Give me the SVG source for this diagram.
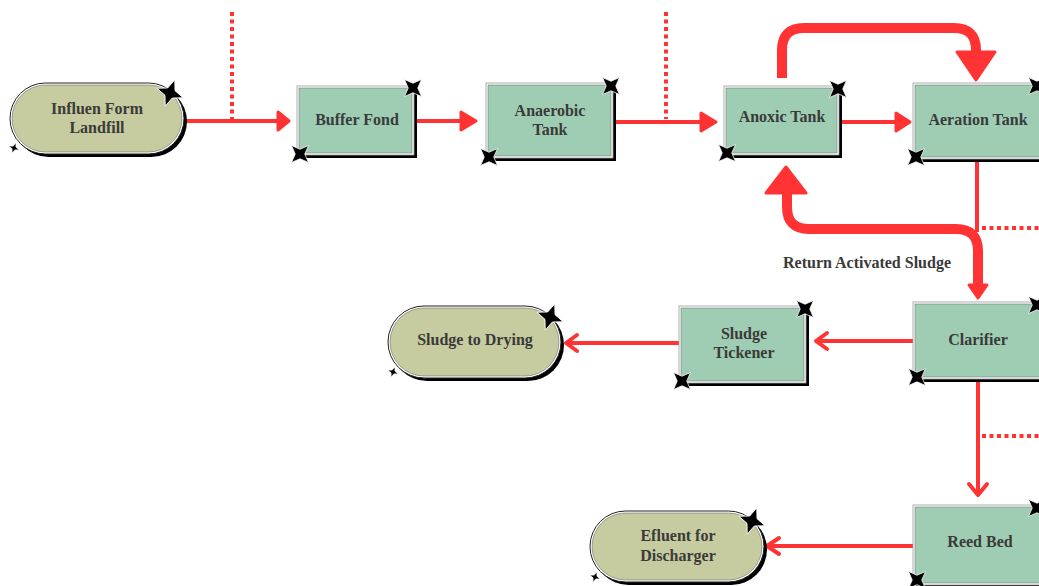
<svg xmlns="http://www.w3.org/2000/svg" width="1039" height="586" viewBox="0 0 1039 586">
<defs>
<style>
.lbl{font-family:"Liberation Serif","Times New Roman",serif;font-weight:bold;font-size:16px;fill:#3a3a3a;text-anchor:middle}
.sh{fill:#000}
.outer{fill:#fff;stroke:#999;stroke-width:0.8}
.box{fill:#9fcdb4;stroke:#666;stroke-width:0.5}
.pill{fill:#c6cc9f;stroke:#555;stroke-width:0.5}
.pillout{fill:#fff;stroke:#222;stroke-width:1}
.ln{fill:none;stroke:#ff3333;stroke-width:4}
.dot{fill:none;stroke:#ff3333;stroke-width:4;stroke-dasharray:4 3.5}
.thick{fill:none;stroke:#ff3333;stroke-width:10;stroke-linejoin:round}
.head{fill:#ff3333;stroke:#ff3333;stroke-width:3;stroke-linejoin:round}
.chev{fill:none;stroke:#ff3333;stroke-width:4;stroke-linecap:round;stroke-linejoin:round}
.star{fill:#000;stroke:#fff;stroke-width:0.06}
</style>
<path id="st" class="star" d="M0,-1 L0.28,-0.28 L1,0 L0.28,0.28 L0,1 L-0.28,0.28 L-1,0 L-0.28,-0.28 Z"/>
</defs>

<g id="connectors">
<line class="dot" x1="232" y1="12" x2="232" y2="119"/>
<line class="dot" x1="666" y1="12" x2="666" y2="119"/>
<line class="dot" x1="982" y1="228" x2="1039" y2="228"/>
<line class="dot" x1="982" y1="436" x2="1039" y2="436"/>

<line class="ln" x1="185" y1="121" x2="280" y2="121"/>
<polygon class="head" points="278,112 289,121 278,130"/>
<line class="ln" x1="417" y1="121" x2="462" y2="121"/>
<polygon class="head" points="461,112 476,121 461,130"/>
<line class="ln" x1="615" y1="122" x2="702" y2="122"/>
<polygon class="head" points="701,113 716,122 701,131"/>
<line class="ln" x1="842" y1="122" x2="897" y2="122"/>
<polygon class="head" points="896,113 910,122 896,131"/>

<path class="thick" d="M782,78 V50 Q782,28 804,28 H954 Q976,28 976,50 V55"/>
<polygon class="head" points="957,52 995,52 976,80"/>

<line class="ln" x1="977" y1="162" x2="977" y2="232"/>
<path class="thick" d="M978,288 V251 Q978,229 956,229 H809 Q787,229 787,207 V192"/>
<polygon class="head" points="766,193 806,193 786,167"/>
<polygon class="head" points="969,285 987,285 978,298"/>

<line class="ln" x1="913" y1="341" x2="817" y2="341"/>
<polyline class="chev" points="827,333 816,341 827,349"/>
<line class="ln" x1="679" y1="343" x2="567" y2="343"/>
<polyline class="chev" points="577,335 566,343 577,351"/>
<line class="ln" x1="978" y1="382" x2="978" y2="494"/>
<polyline class="chev" points="969,484 978,495 987,484"/>
<line class="ln" x1="913" y1="546" x2="768" y2="546"/>
<polyline class="chev" points="779,538 767,546 779,554"/>
</g>

<g id="n-influen">
<rect class="sh" x="13" y="86" width="174" height="71" rx="35.5"/>
<rect class="pillout" x="10" y="83" width="174" height="71" rx="35.5"/>
<rect class="pill" x="12" y="85" width="170" height="67" rx="33.5"/>
<text class="lbl" x="97" y="114">Influen Form</text>
<text class="lbl" x="97" y="133">Landfill</text>
<use href="#st" transform="translate(170,93) rotate(20) scale(14)"/>
<use href="#st" transform="translate(14,148) rotate(20) scale(5)"/>
</g>

<g id="n-buffer">
<rect class="sh" x="300" y="89" width="117" height="69"/>
<rect class="outer" x="297" y="86" width="117" height="69"/>
<rect class="box" x="299" y="88" width="113" height="65"/>
<text class="lbl" x="357" y="125">Buffer Fond</text>
<use href="#st" transform="translate(413,88) rotate(45) scale(12)"/>
<use href="#st" transform="translate(300,154) rotate(45) scale(12)"/>
</g>

<g id="n-anaerobic">
<rect class="sh" x="489" y="86" width="127" height="75"/>
<rect class="outer" x="486" y="83" width="127" height="75"/>
<rect class="box" x="488" y="85" width="123" height="71"/>
<text class="lbl" x="550" y="116">Anaerobic</text>
<text class="lbl" x="550" y="135">Tank</text>
<use href="#st" transform="translate(611,86) rotate(45) scale(12)"/>
<use href="#st" transform="translate(489,157) rotate(45) scale(12)"/>
</g>

<g id="n-anoxic">
<rect class="sh" x="727" y="89" width="115" height="69"/>
<rect class="outer" x="724" y="86" width="115" height="69"/>
<rect class="box" x="726" y="88" width="111" height="65"/>
<text class="lbl" x="782" y="122">Anoxic Tank</text>
<use href="#st" transform="translate(838,89) rotate(45) scale(12)"/>
<use href="#st" transform="translate(727,153) rotate(45) scale(12)"/>
</g>

<g id="n-aeration">
<rect class="sh" x="916" y="86" width="130" height="76"/>
<rect class="outer" x="913" y="83" width="130" height="76"/>
<rect class="box" x="915" y="85" width="126" height="72"/>
<text class="lbl" x="978" y="125">Aeration Tank</text>
<use href="#st" transform="translate(1037,86) rotate(45) scale(12)"/>
<use href="#st" transform="translate(916,157) rotate(45) scale(12)"/>
</g>

<g id="n-clarifier">
<rect class="sh" x="916" y="305" width="130" height="77"/>
<rect class="outer" x="913" y="302" width="130" height="77"/>
<rect class="box" x="915" y="304" width="126" height="73"/>
<text class="lbl" x="978" y="345">Clarifier</text>
<use href="#st" transform="translate(1037,305) rotate(45) scale(12)"/>
<use href="#st" transform="translate(917,377) rotate(45) scale(12)"/>
</g>

<g id="n-tickener">
<rect class="sh" x="682" y="309" width="127" height="77"/>
<rect class="outer" x="679" y="306" width="127" height="77"/>
<rect class="box" x="681" y="308" width="123" height="73"/>
<text class="lbl" x="744" y="339">Sludge</text>
<text class="lbl" x="744" y="358">Tickener</text>
<use href="#st" transform="translate(805,309) rotate(45) scale(12)"/>
<use href="#st" transform="translate(682,381) rotate(45) scale(12)"/>
</g>

<g id="n-drying">
<rect class="sh" x="391" y="309" width="173" height="72" rx="36"/>
<rect class="pillout" x="388" y="306" width="173" height="72" rx="36"/>
<rect class="pill" x="390" y="308" width="169" height="68" rx="34"/>
<text class="lbl" x="475" y="345">Sludge to Drying</text>
<use href="#st" transform="translate(550,317) rotate(20) scale(14)"/>
<use href="#st" transform="translate(393,372) rotate(20) scale(5)"/>
</g>

<g id="n-reed">
<rect class="sh" x="916" y="508" width="130" height="80"/>
<rect class="outer" x="913" y="505" width="130" height="80"/>
<rect class="box" x="915" y="507" width="126" height="76"/>
<text class="lbl" x="980" y="547">Reed Bed</text>
<use href="#st" transform="translate(1037,508) rotate(45) scale(12)"/>
<use href="#st" transform="translate(917,580) rotate(45) scale(12)"/>
</g>

<g id="n-efluent">
<rect class="sh" x="593" y="514" width="174" height="71" rx="35.5"/>
<rect class="pillout" x="590" y="511" width="174" height="71" rx="35.5"/>
<rect class="pill" x="592" y="513" width="170" height="67" rx="33.5"/>
<text class="lbl" x="678" y="541">Efluent for</text>
<text class="lbl" x="678" y="561">Discharger</text>
<use href="#st" transform="translate(752,521) rotate(20) scale(14)"/>
<use href="#st" transform="translate(595,577) rotate(20) scale(5)"/>
</g>

<text class="lbl" x="867" y="268">Return Activated Sludge</text>
</svg>
